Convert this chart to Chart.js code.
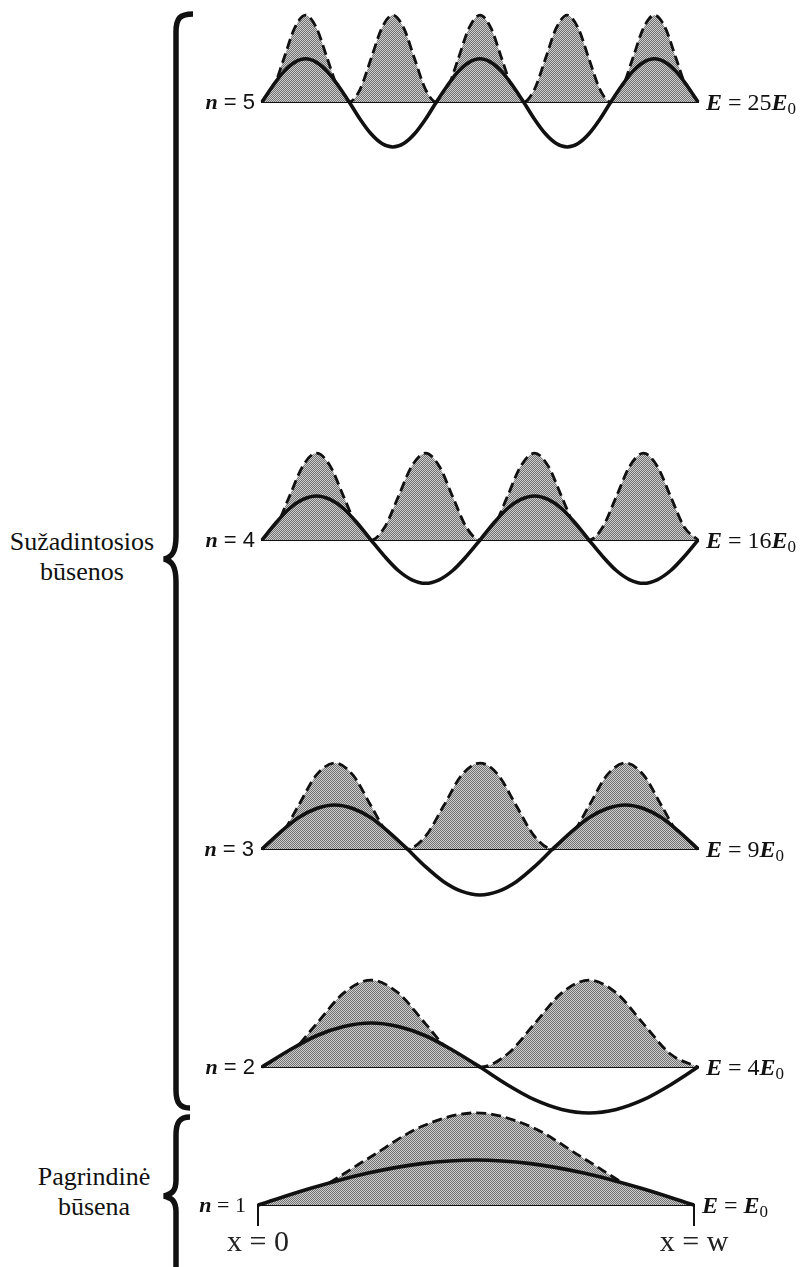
<!DOCTYPE html>
<html>
<head>
<meta charset="utf-8">
<script src="https://cdn.jsdelivr.net/npm/chart.js@4/dist/chart.umd.min.js"></script>
<style>
  html, body { margin: 0; padding: 0; background: #fff; }
  #page { position: relative; width: 801px; height: 1267px; overflow: hidden; background: #fff; }
  canvas { position: absolute; }
  .side { position: absolute; font-family: 'Liberation Serif', 'Times New Roman', serif; font-size: 26px; line-height: 30px; text-align: center; color: #111; }
  .nl { position: absolute; font-family: 'Liberation Sans', Arial, sans-serif; font-size: 22px; line-height: 24px; color: #111; white-space: nowrap; text-align: right; }
  .nl i { font-family: 'Liberation Serif', serif; font-weight: bold; }
  .nl.ground { font-family: 'Liberation Serif', serif; }
  .el { position: absolute; font-family: 'Liberation Serif', serif; font-size: 24px; line-height: 26px; color: #111; white-space: nowrap; }
  .el i { font-weight: bold; }
  .el sub { font-size: 17px; vertical-align: -4px; line-height: 0; }
</style>
</head>
<body>
<div id="page">
  <svg width="801" height="1267" style="position:absolute;left:0;top:0">
    <path d="M 193 14 C 180 14 176 18 176 32 L 176 536 C 176 552 172 557 164 559 C 172 561 176 566 176 582 L 176 1090 C 176 1103 180 1108 190 1108"
          fill="none" stroke="#111" stroke-width="5.5"/>
    <path d="M 190 1117 C 180 1117 176 1122 176 1135 L 176 1180 C 176 1191 172 1194 164 1196 C 172 1198 176 1201 176 1212 L 176 1275"
          fill="none" stroke="#111" stroke-width="5.5"/>
  </svg>
  <div class="side" style="left:0;width:164px;top:527px">Sužadintosios<br>būsenos</div>
  <div class="side" style="left:12px;width:164px;top:1162px">Pagrindinė<br>būsena</div>
</div>
<script>
// quantum numbers, energy factors and labels
const levels = [5, 4, 3, 2, 1];
const energyFactors = ['25', '16', '9', '4', ''];
const tickLabels = ['x = 0', 'x = w'];

// wave function psi (unit = wave amplitude)
const psi5 = [0, .37, .69, .9, .98, .9, .69, .37, 0, -.39, -.72, -.94, -1.02, -.94, -.72, -.39,
              0, .37, .69, .9, .98, .9, .69, .37, 0, -.39, -.72, -.94, -1.02, -.94, -.72, -.39,
              0, .37, .69, .9, .98, .9, .69, .37, 0];
const psi4 = [0, .38, .71, .92, 1, .92, .71, .38, 0, -.37, -.69, -.9, -.98, -.9, -.69, -.37,
              0, .38, .71, .92, 1, .92, .71, .38, 0, -.37, -.69, -.9, -.98, -.9, -.69, -.37, 0];
const psi3 = [0, .38, .71, .92, 1, .92, .71, .38, 0, -.4, -.74, -.96, -1.04, -.96, -.74, -.4,
              0, .38, .71, .92, 1, .92, .71, .38, 0];
const psi2 = [0, .38, .71, .92, 1, .92, .71, .38, 0, -.4, -.74, -.96, -1.04, -.96, -.74, -.4, 0];
const psi1 = [0, .39, .72, .94, 1.02, .94, .72, .39, 0];

// probability density (dashed curve)
const dens5 = [0, .29, .98, 1.68, 1.97, 1.68, .98, .29, 0, .29, .98, 1.68, 1.97, 1.68, .98, .29,
               0, .29, .98, 1.68, 1.97, 1.68, .98, .29, 0, .29, .98, 1.68, 1.97, 1.68, .98, .29,
               0, .29, .98, 1.68, 1.97, 1.68, .98, .29, 0];
const dens4 = [0, .29, .98, 1.68, 1.97, 1.68, .98, .29, 0, .29, .98, 1.68, 1.97, 1.68, .98, .29,
               0, .29, .98, 1.68, 1.97, 1.68, .98, .29, 0, .29, .98, 1.68, 1.97, 1.68, .98, .29, 0];
const dens3 = [0, .29, .98, 1.68, 1.95, 1.68, .98, .29, 0, .29, .98, 1.68, 1.95, 1.68, .98, .29,
               0, .29, .98, 1.68, 1.95, 1.68, .98, .29, 0];
const dens2 = [0, .29, .98, 1.68, 1.97, 1.68, .98, .29, 0, .29, .98, 1.68, 1.97, 1.68, .98, .29, 0];
const dens1 = [0, .31, 1.04, 1.78, 2.09, 1.78, 1.04, .31, 0];

const psiRows = [psi5, psi4, psi3, psi2, psi1];
const densRows = [dens5, dens4, dens3, dens2, dens1];

// layout (pixels)
const baselines = [102, 540, 849, 1067, 1205];
const rowLeft = [262, 262, 262, 262, 258];
const labelGap = [7, 7, 8, 7, 12];
const rowWidth = 436;
const PAD = 10, AREA_H = 150;
const Y_MIN = -1.2, Y_MAX = 2.2;

const page = document.getElementById('page');

function stipple(ctx) {
  const c = document.createElement('canvas');
  c.width = 2; c.height = 2;
  const g = c.getContext('2d');
  g.fillStyle = '#cdcdcd'; g.fillRect(0, 0, 2, 2);
  g.fillStyle = '#727272'; g.fillRect(0, 0, 1, 1); g.fillRect(1, 1, 1, 1);
  return ctx.createPattern(c, 'repeat');
}

levels.forEach((n, i) => {
  const ground = n === 1;
  const padX = ground ? 50 : PAD;
  const bottomPad = ground ? 70 : PAD;
  const zeroOffset = PAD + AREA_H * Y_MAX / (Y_MAX - Y_MIN);
  const cv = document.createElement('canvas');
  cv.width = rowWidth + 2 * padX;
  cv.height = PAD + AREA_H + bottomPad;
  cv.style.left = (rowLeft[i] - padX) + 'px';
  cv.style.top = Math.round(baselines[i] - zeroOffset) + 'px';
  page.appendChild(cv);
  const ctx = cv.getContext('2d');
  const fillPat = stipple(ctx);

  new Chart(ctx, {
    type: 'line',
    data: {
      labels: psiRows[i].map((_, k) => k),
      datasets: [
        {
          label: 'psi',
          data: psiRows[i],
          borderColor: '#111', borderWidth: 3.6,
          fill: { target: 'origin', above: fillPat, below: 'rgba(0,0,0,0)' },
          cubicInterpolationMode: 'monotone',
          pointRadius: 0, clip: false, order: 1
        },
        {
          label: 'density',
          data: densRows[i],
          borderColor: '#111', borderWidth: 2.8, borderDash: [10, 5],
          backgroundColor: fillPat, fill: 'origin',
          cubicInterpolationMode: 'monotone',
          pointRadius: 0, clip: false, order: 2
        }
      ]
    },
    options: {
      responsive: false,
      animation: false,
      events: [],
      layout: { padding: { left: padX, right: padX, top: PAD, bottom: bottomPad } },
      plugins: { legend: { display: false }, tooltip: { enabled: false } },
      scales: {
        x: {
          type: 'category',
          position: { y: 0 },
          offset: false,
          z: 1,
          border: { display: true, color: '#111', width: 2 },
          grid: { display: ground, drawOnChartArea: false, drawTicks: true, tickLength: 20, color: '#111', lineWidth: 2 },
          ticks: {
            display: ground, autoSkip: false, maxRotation: 0, padding: 0, color: '#222',
            font: { family: "'Liberation Serif', serif", size: 30 },
            callback: (v, k) => tickLabels[k]
          },
          afterBuildTicks: s => { s.ticks = [s.ticks[0], s.ticks[s.ticks.length - 1]]; },
          afterFit: s => { s.paddingLeft = 0; s.paddingRight = 0; }
        },
        y: { display: false, min: Y_MIN, max: Y_MAX }
      }
    }
  });

  const nl = document.createElement('div');
  nl.className = ground ? 'nl ground' : 'nl';
  nl.style.right = (801 - rowLeft[i] + labelGap[i]) + 'px';
  nl.style.top = (baselines[i] - 12) + 'px';
  nl.innerHTML = '<i>n</i> = ' + n;
  page.appendChild(nl);

  const el = document.createElement('div');
  el.className = 'el';
  el.style.left = (rowLeft[i] + rowWidth + 8) + 'px';
  el.style.top = (baselines[i] - 13) + 'px';
  el.innerHTML = '<i>E</i> = ' + energyFactors[i] + '<i>E</i><sub>0</sub>';
  page.appendChild(el);
});
</script>
</body>
</html>
